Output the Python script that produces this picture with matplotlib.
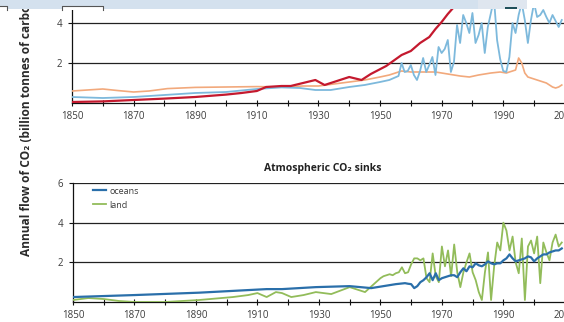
import matplotlib.pyplot as plt
from matplotlib.patches import Rectangle
from matplotlib.lines import Line2D

plt.rcParams['font.family'] = ['Open Sans', 'DejaVu Sans']

# --- sources (upper panel) ---
fossil_years = [1850, 1860, 1870, 1880, 1890, 1900, 1905, 1910, 1913, 1918, 1921,
                1925, 1929, 1932, 1937, 1940, 1944, 1947, 1952, 1957, 1960, 1963,
                1966, 1968, 1970, 1972, 1974, 1976, 1980]
fossil_vals = [0.05, 0.08, 0.15, 0.22, 0.3, 0.42, 0.5, 0.6, 0.8, 0.85, 0.85,
               1.0, 1.15, 0.9, 1.15, 1.3, 1.15, 1.45, 1.85, 2.4, 2.6, 3.0,
               3.3, 3.7, 4.05, 4.45, 4.8, 5.3, 5.6]

landuse_years = [1850, 1855, 1860, 1865, 1870, 1875, 1881, 1890, 1900, 1910, 1918,
                 1925, 1930, 1935, 1940, 1945, 1950, 1953, 1957, 1960, 1963, 1968,
                 1972, 1976, 1979, 1982, 1986, 1989, 1991, 1993, 1994, 1995, 1996,
                 1997, 1998, 2000, 2002, 2004, 2006, 2007, 2008, 2009]
landuse_vals = [0.6, 0.65, 0.7, 0.62, 0.55, 0.6, 0.72, 0.78, 0.8, 0.82, 0.8,
                0.85, 0.85, 0.95, 1.05, 1.15, 1.3, 1.4, 1.6, 1.55, 1.55, 1.55,
                1.45, 1.35, 1.3, 1.4, 1.5, 1.55, 1.5, 1.6, 1.65, 2.25, 2.0,
                1.5, 1.3, 1.2, 1.1, 1.0, 0.8, 0.75, 0.8, 0.9]

atmos_years = [1850, 1860, 1870, 1880, 1890, 1900, 1910, 1918, 1924, 1929, 1934,
               1940, 1945, 1950, 1953, 1956] + list(range(1957, 2010))
atmos_vals = [0.3, 0.25, 0.3, 0.4, 0.5, 0.55, 0.7, 0.78, 0.75, 0.65, 0.65,
              0.8, 0.9, 1.05, 1.15, 1.35,
              2.0, 1.55, 1.6, 1.9, 1.4, 1.15, 1.6, 2.25, 1.55, 1.9,
              2.3, 1.4, 2.8, 2.5, 2.7, 3.15, 1.55, 2.05, 3.9, 3.0,
              4.4, 4.0, 3.5, 4.5, 3.0, 3.4, 4.0, 2.5, 3.8, 4.5,
              5.2, 3.15, 2.2, 1.6, 1.55, 2.3, 4.0, 3.5, 4.4, 5.0,
              4.15, 3.0, 4.15, 5.0, 4.3, 4.4, 4.65, 4.3, 4.0, 4.4,
              4.1, 3.8, 4.15]

# --- sinks (lower panel) ---
ocean_years = [1850, 1870, 1891, 1913, 1918, 1929, 1940, 1947, 1955] + list(range(1958, 2010))
ocean_vals = [0.25, 0.35, 0.47, 0.65, 0.65, 0.75, 0.8, 0.7, 0.9,
              0.95, 0.92, 0.9, 0.7, 0.8, 1.0, 1.1, 1.25, 1.45, 1.1,
              1.45, 1.1, 1.2, 1.25, 1.3, 1.35, 1.35, 1.25, 1.5, 1.7,
              1.55, 1.8, 1.75, 1.95, 1.85, 1.8, 1.9, 2.05, 1.95, 1.9,
              1.95, 1.95, 2.1, 2.2, 2.4, 2.2, 2.05, 2.1, 2.15, 2.2,
              2.3, 2.25, 2.05, 2.2, 2.3, 2.4, 2.4, 2.5, 2.55, 2.6,
              2.6, 2.7]

land_years = [1850, 1855, 1860, 1865, 1870, 1880, 1891, 1902, 1907, 1910, 1913,
              1916, 1918, 1921, 1925, 1929, 1934, 1940, 1945] + list(range(1950, 2010))
land_vals = [0.1, 0.2, 0.15, 0.05, 0.0, 0.0, 0.1, 0.25, 0.35, 0.45, 0.25,
             0.5, 0.45, 0.25, 0.35, 0.5, 0.4, 0.75, 0.5,
             1.2, 1.3, 1.35, 1.4, 1.35, 1.45, 1.5, 1.75, 1.45, 1.5,
             1.9, 2.2, 2.2, 2.1, 2.2, 1.2, 1.0, 2.45, 1.3, 1.0,
             2.8, 1.8, 2.6, 1.3, 2.9, 1.5, 0.75, 1.5, 2.0, 2.45,
             1.5, 1.1, 0.5, 0.1, 1.5, 2.5, 0.1, 1.8, 3.0, 2.6,
             4.0, 3.6, 2.6, 3.3, 2.0, 1.45, 3.2, 0.1, 2.8, 3.1,
             2.45, 3.3, 0.95, 3.0, 2.5, 2.1, 3.0, 3.4, 2.8, 3.0]

year_ticks = list(range(1850, 2011, 20))
year_minor = list(range(1860, 2011, 20))
y_ticks = [2, 4, 6]

W, H = 564, 322
fig = plt.figure(figsize=(W / 100, H / 100), dpi=100)
fig.patch.set_facecolor('white')


def px_rect(x0, y0, x1, y1):
    # figure-fraction rect from pixel box (origin top-left)
    return [x0 / W, 1 - y1 / H, (x1 - x0) / W, (y1 - y0) / H]


GRID = '#222222'
TICK_TXT = '#3c3c3c'


def style_axes(ax):
    ax.set_xlim(1850, 2012)
    ax.set_ylim(0, 6)
    ax.set_facecolor('none')
    for s in ['top', 'right']:
        ax.spines[s].set_visible(False)
    for s in ['left', 'bottom']:
        ax.spines[s].set_color('#111111')
        ax.spines[s].set_linewidth(0.9)
    ax.set_xticks(year_ticks)
    ax.set_xticks(year_minor, minor=True)
    ax.tick_params(axis='x', which='both', direction='inout', length=4,
                   width=0.8, color='#111111', labelsize=7, labelcolor=TICK_TXT, pad=4)
    ax.set_yticks(y_ticks)
    ax.tick_params(axis='y', direction='out', length=3, width=0.8,
                   color='#111111', labelsize=7, labelcolor=TICK_TXT, pad=4)
    for v in y_ticks:
        ax.axhline(v, color=GRID, lw=0.9, zorder=1)


# upper panel runs above the top edge of the figure
ax1 = fig.add_axes(px_rect(72, -17, 571, 103))
style_axes(ax1)
ax1.plot(landuse_years, landuse_vals, color='#f2a97c', lw=1.2, zorder=3)
ax1.plot(atmos_years, atmos_vals, color='#7db9dc', lw=1.3, zorder=3)
ax1.plot(fossil_years, fossil_vals, color='#c4192e', lw=1.6, zorder=4)

ax2 = fig.add_axes(px_rect(73, 183, 571, 302))
style_axes(ax2)
ax2.plot(land_years, land_vals, color='#92bc5a', lw=1.3, zorder=3)
ax2.plot(ocean_years, ocean_vals, color='#2a6faa', lw=1.6, zorder=4)
handles = [Line2D([], [], color='#2a6faa', lw=1.6),
           Line2D([], [], color='#92bc5a', lw=1.3)]
ax2.legend(handles, ['oceans', 'land'], loc='upper left', bbox_to_anchor=(0.04, 0.97),
           frameon=False, fontsize=6.5, handlelength=1.4, handletextpad=0.4,
           labelspacing=0.55, borderpad=0, borderaxespad=0, labelcolor=TICK_TXT)

fig.text(323 / W, 1 - 168 / H, 'Atmospheric CO\u2082 sinks', ha='center', va='center',
         fontsize=7.5, fontweight='bold', color='#222222')

fig.text(27 / W, 1 - 256 / H, 'Annual flow of CO\u2082 (billion tonnes of carbon)',
         rotation=90, ha='center', va='bottom', fontsize=8.6, fontweight='bold',
         color='#2a2a2a')

# header strip along the top edge
fig.add_artist(Rectangle((0, 1 - 9 / H), 478 / W, 9 / H, transform=fig.transFigure,
                         facecolor='#d4e1ee', edgecolor='none', zorder=10))
fig.add_artist(Rectangle((478 / W, 1 - 9 / H), 49 / W, 9 / H, transform=fig.transFigure,
                         facecolor='#dfe6ef', edgecolor='none', zorder=10))
fig.add_artist(Rectangle((527 / W, 1 - 8 / H), 31 / W, 8 / H, transform=fig.transFigure,
                         facecolor='white', edgecolor='none', zorder=10))
for x0, x1 in [(-5, 7), (62, 103)]:
    fig.add_artist(Rectangle((x0 / W, 1 - 9.5 / H), (x1 - x0) / W, 3.5 / H,
                             transform=fig.transFigure, facecolor='white',
                             edgecolor='none', zorder=11))
    fig.add_artist(Line2D([x0 / W, x0 / W, x1 / W, x1 / W],
                          [1 - 9.5 / H, 1 - 6 / H, 1 - 6 / H, 1 - 9.5 / H],
                          transform=fig.transFigure, color='#555555', lw=0.8, zorder=12))
fig.add_artist(Rectangle((505 / W, 1 - 9 / H), 12 / W, 1.5 / H, transform=fig.transFigure,
                         facecolor='#1f4f5a', edgecolor='none', zorder=11))

fig.savefig('out.png', dpi=100, facecolor='white')
